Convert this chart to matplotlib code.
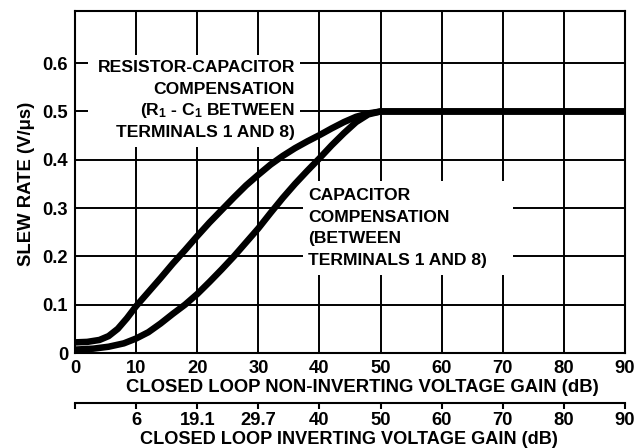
import matplotlib
matplotlib.use("Agg")
import matplotlib.pyplot as plt
from matplotlib.patches import Rectangle

plt.rcParams['font.family'] = ['Liberation Sans', 'DejaVu Sans']
plt.rcParams['font.weight'] = 'bold'
plt.rcParams['mathtext.fontset'] = 'custom'
plt.rcParams['mathtext.rm'] = 'Liberation Sans:bold'
plt.rcParams['mathtext.it'] = 'Liberation Sans:bold'
plt.rcParams['mathtext.bf'] = 'Liberation Sans:bold'

# ---- data ----
rc_gain_db = [0, 2, 4, 5.5, 7, 8.5, 10, 12, 14, 16, 18, 20, 22, 24, 26, 28, 30,
              32, 34, 36, 38, 40, 42, 44, 46, 48, 50, 52, 90]
rc_slew = [0.022, 0.023, 0.027, 0.035, 0.050, 0.072, 0.097, 0.126, 0.155, 0.185,
           0.213, 0.242, 0.270, 0.296, 0.322, 0.347, 0.369, 0.390, 0.408, 0.424,
           0.438, 0.451, 0.465, 0.478, 0.489, 0.496, 0.500, 0.500, 0.500]

c_gain_db = [0, 3, 5.5, 8, 10, 12, 14, 16, 18, 20, 22, 24, 26, 28, 30, 32, 34,
             36, 38, 40, 42, 44, 46, 48, 50, 52, 90]
c_slew = [0.007, 0.009, 0.013, 0.020, 0.030, 0.043, 0.061, 0.081, 0.100, 0.122,
          0.147, 0.173, 0.200, 0.229, 0.258, 0.290, 0.321, 0.350, 0.377, 0.403,
          0.430, 0.455, 0.478, 0.494, 0.500, 0.500, 0.500]

x_ticks = [0, 10, 20, 30, 40, 50, 60, 70, 80, 90]
x_ticklabels = ['0', '10', '20', '30', '40', '50', '60', '70', '80', '90']
inv_ticklabels = ['', '6', '19.1', '29.7', '40', '50', '60', '70', '80', '90']
y_ticks = [0, 0.1, 0.2, 0.3, 0.4, 0.5, 0.6]
y_ticklabels = ['0', '0.1', '0.2', '0.3', '0.4', '0.5', '0.6']

rc_label = ['RESISTOR-CAPACITOR', 'COMPENSATION',
            r'(R$_1$ - C$_1$ BETWEEN', 'TERMINALS 1 AND 8)']
c_label = ['CAPACITOR', 'COMPENSATION', '(BETWEEN', 'TERMINALS 1 AND 8)']

# ---- layout ----
W, H = 635, 448
fig = plt.figure(figsize=(W / 100, H / 100), dpi=100)


def fx(x):
    return x / W


def fy(y):
    return 1 - y / H


FS = 12.6      # annotation text
FT = 13.2      # tick labels
FL = 13.3      # axis labels
ax = fig.add_axes([fx(75), fy(353), fx(625) - fx(75), fy(11) - fy(353)])
ax.set_xlim(0, 90)
ax.set_ylim(0, 0.708)
ax.set_axisbelow(True)
ax.grid(True, color='black', linewidth=1.4)
ax.set_xticks(x_ticks)
ax.set_xticklabels(x_ticklabels)
ax.set_yticks(y_ticks)
ax.set_yticklabels(y_ticklabels)
ax.tick_params(length=0, labelsize=FT, pad=5)
for sp in ax.spines.values():
    sp.set_linewidth(1.5)

# white boxes behind the annotations
ax.add_patch(Rectangle((fx(88), fy(147)), fx(300) - fx(88), fy(55) - fy(147),
                       transform=fig.transFigure, facecolor='white',
                       edgecolor='none', zorder=1))
ax.add_patch(Rectangle((fx(303), fy(275)), fx(513) - fx(303), fy(181) - fy(275),
                       transform=fig.transFigure, facecolor='white',
                       edgecolor='none', zorder=1))

ax.plot(rc_gain_db, rc_slew, color='black', linewidth=4.7, zorder=3,
        solid_capstyle='butt', solid_joinstyle='round')
ax.plot(c_gain_db, c_slew, color='black', linewidth=4.7, zorder=3,
        solid_capstyle='butt', solid_joinstyle='round')

for txt, yb in zip(rc_label, [72, 93.5, 115, 136.7]):
    fig.text(fx(295), fy(yb), txt, ha='right', va='baseline', fontsize=FS,
             fontweight='bold', zorder=4)
for txt, yb in zip(c_label, [200, 221.7, 243.3, 265]):
    fig.text(fx(308), fy(yb), txt, ha='left', va='baseline', fontsize=FS,
             fontweight='bold', zorder=4)

ax.set_ylabel('SLEW RATE (V/μs)', fontsize=FL, fontweight='bold')
ax.yaxis.set_label_coords(-0.0727, 0.494)

fig.text(fx(362), fy(387), 'CLOSED LOOP NON-INVERTING VOLTAGE GAIN (dB)',
         ha='center', va='center', fontsize=FL, fontweight='bold')

# secondary (inverting gain) scale
ax2 = fig.add_axes([fx(75), fy(403), fx(625) - fx(75), 0.0001])
ax2.set_xlim(0, 90)
ax2.set_ylim(0, 1)
for s in ['top', 'left', 'right']:
    ax2.spines[s].set_visible(False)
ax2.spines['bottom'].set_linewidth(1.5)
ax2.set_yticks([])
ax2.set_xticks(x_ticks)
ax2.set_xticklabels(inv_ticklabels)
ax2.tick_params(axis='x', direction='out', length=4.5, width=1.5,
                labelsize=FT, pad=2)
ax2.patch.set_visible(False)

fig.text(fx(349), fy(447.5), 'CLOSED LOOP INVERTING VOLTAGE GAIN (dB)',
         ha='center', va='bottom', fontsize=13.1, fontweight='bold')

fig.savefig('out.png', dpi=100)
